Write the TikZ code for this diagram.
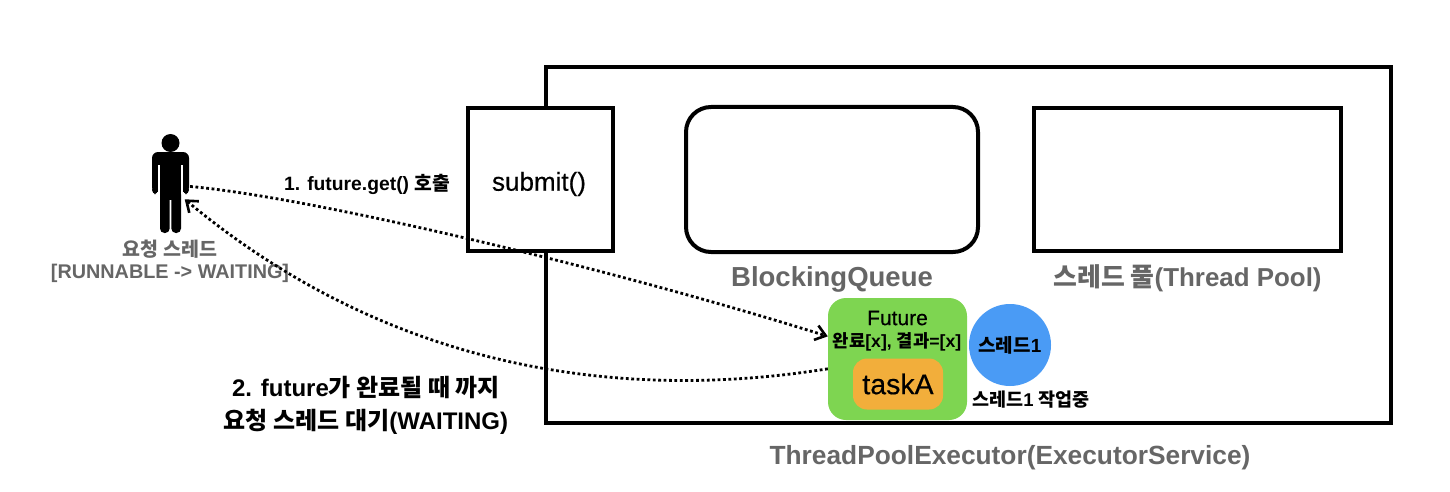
\documentclass[tikz,border=0pt]{standalone}
\usepackage{fontspec}
\setmainfont{Liberation Sans}
\newfontfamily\krfont{Noto Sans CJK KR}
\newfontfamily\medfont[FakeBold=0.4]{Liberation Sans}
\newcommand{\kr}[1]{{\krfont #1}}
\newcommand{\fs}[1]{\fontsize{#1}{#1}\selectfont}
\definecolor{labelgray}{RGB}{102, 102, 102}
\definecolor{futuregreen}{RGB}{126, 213, 81}
\definecolor{taskorange}{RGB}{242, 174, 59}
\definecolor{threadblue}{RGB}{74, 155, 245}
\tikzset{
  box/.style={draw, line width=4pt, fill=white, inner sep=0pt},
  graylabel/.style={text=labelgray, font=\bfseries\fs{26}, inner sep=0pt},
  blacklabel/.style={font=\bfseries\fs{18}, inner sep=0pt, align=center},
  call/.style={line width=2.8pt, dash pattern=on 2.8pt off 2.6pt, -{Straight Barb[length=10pt,width=15pt,line width=2.6pt]}}
}
\usetikzlibrary{arrows.meta}
\begin{document}
\begin{tikzpicture}[x=1pt, y=-1pt]
  \useasboundingbox (0,0) rectangle (1450,492);
  \node[box, minimum width=845pt, minimum height=356pt] (executor) at (968.5,245) {};
  \node[box, minimum width=145pt, minimum height=143pt] (submit) at (540.5,179.5) {};
  \node[font=\medfont\fs{26}, inner sep=0pt] (submitlabel) at (539,184) {submit()};
  \node[box, rounded corners=25pt, minimum width=292pt, minimum height=145pt] (queue) at (832,179.5) {};
  \node[box, minimum width=307pt, minimum height=143pt] (pool) at (1187.5,179.5) {};
  \node[graylabel, font=\bfseries\fs{27.5}] (queuelabel) at (832,279) {BlockingQueue};
  \node[graylabel, font=\bfseries\fs{25.9}] (poollabel) at (1187.5,278) {\kr{스레드 풀}(Thread Pool)};
  \node[graylabel, font=\bfseries\fs{26.3}] (executorlabel) at (1010,458) {ThreadPoolExecutor(ExecutorService)};
  % future and its task
  \node[fill=futuregreen, rounded corners=18pt, minimum width=139pt, minimum height=122pt, inner sep=0pt] (future) at (897.5,359) {};
  \node[font=\medfont\fs{21}, inner sep=0pt] (futurename) at (897.5,318) {Future};
  \node[blacklabel, font=\bfseries\fs{17.7}] (futurestate) at (897,342) {\kr{완료}[x], \kr{결과}=[x]};
  \node[fill=taskorange, rounded corners=14pt, minimum width=90pt, minimum height=51pt, inner sep=0pt, font=\medfont\fs{28.5}] (task) at (898,384) {taskA};
  \node[circle, fill=threadblue, minimum size=82pt, inner sep=0pt, font=\bfseries\fs{19}] (thread) at (1010,345) {\kr{스레드}1};
  \node[blacklabel, font=\bfseries\fs{18.5}] (threadlabel) at (1031,400) {\kr{스레드}1 \kr{작업중}};
  % request thread
  \node[minimum width=28pt, minimum height=99pt, inner sep=0pt] (person) at (170.5,183.5) {};
  \fill (170.5,143) circle (9pt);
  \fill[rounded corners=6pt] (152,193) -- (152,152) -- (189,152) -- (189,193) -- cycle;
  \fill[white] (158,165) rectangle (160,194);
  \fill[white] (181,165) rectangle (183,194);
  \fill[white] (158,190) rectangle (183,194);
  \fill[white] (152,192) rectangle (189,194);
  \fill[rounded corners=4pt] (152,194) -- (152,186) -- (158,186) -- (158,194) -- cycle;
  \fill[rounded corners=4pt] (183,194) -- (183,186) -- (189,186) -- (189,194) -- cycle;
  \fill (160,160) rectangle (181,200);
  \fill[rounded corners=4.5pt] (160,233) -- (160,190) -- (169.7,190) -- (169.7,233) -- cycle;
  \fill[rounded corners=4.5pt] (171.3,233) -- (171.3,190) -- (181,190) -- (181,233) -- cycle;
  \node[graylabel, font=\bfseries\fs{19.5}] (personname) at (170,249) {\kr{요청 스레드}};
  \node[graylabel, font=\bfseries\fs{19.8}] (personstate) at (170,273) {[RUNNABLE -> WAITING]};
  % calls
  \draw[call] (person.-10) .. controls (300,195) and (600,265) .. (future.162);
  \draw[call] (future.188) .. controls (620,402) and (390,370) .. (person.-48);
  \node[blacklabel, font=\bfseries\fs{19.3}] (getlabel) at (367,184) {1. future.get() \kr{호출}};
  \node[blacklabel, font=\bfseries\fs{24}, align=center] (waitlabel) at (366,405) {2. future\kr{가 완료될 때 까지}\\[9pt]\kr{요청 스레드 대기}(WAITING)};
\end{tikzpicture}
\end{document}
